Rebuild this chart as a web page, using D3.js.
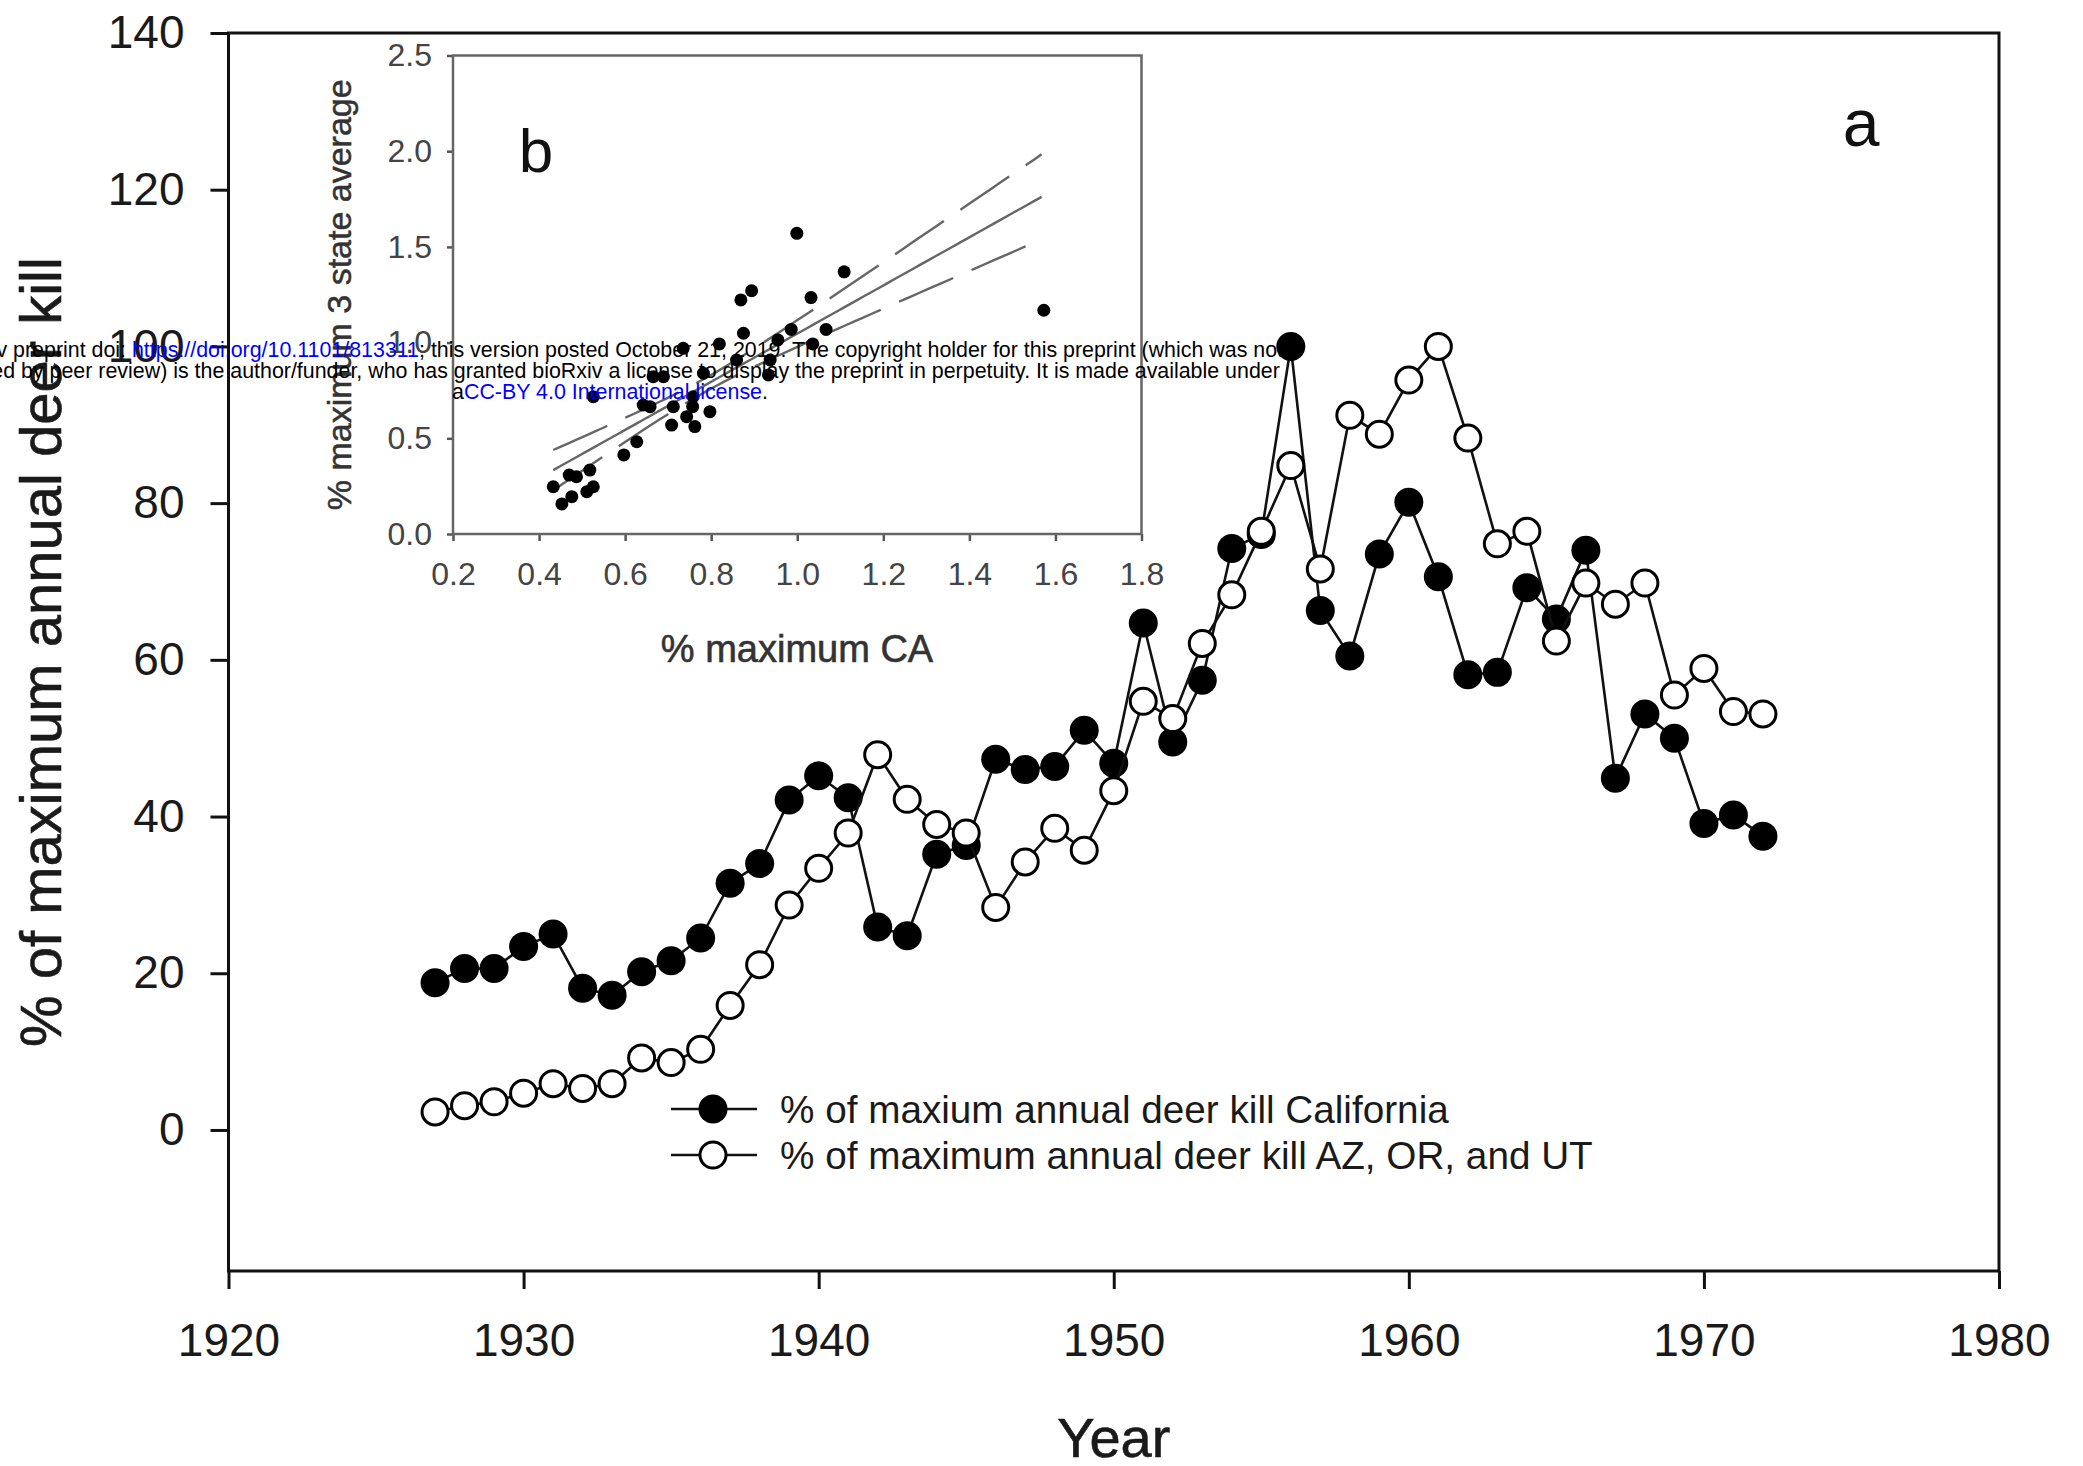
<!DOCTYPE html>
<html>
<head>
<meta charset="utf-8">
<script src="https://cdn.jsdelivr.net/npm/d3@7"></script>
<style>
  body { margin: 0; background: #fff; }
  svg { display: block; }
  text { font-family: "Liberation Sans", Arial, Helvetica, sans-serif; }
</style>
</head>
<body>
<svg id="chart" width="2083" height="1466"></svg>
<script>
// ---- Panel a: annual deer kill, % of maximum ----
const years = [1927, 1928, 1929, 1930, 1931, 1932, 1933, 1934, 1935, 1936,
  1937, 1938, 1939, 1940, 1941, 1942, 1943, 1944, 1945, 1946,
  1947, 1948, 1949, 1950, 1951, 1952, 1953, 1954, 1955, 1956,
  1957, 1958, 1959, 1960, 1961, 1962, 1963, 1964, 1965, 1966,
  1967, 1968, 1969, 1970, 1971, 1972];

const californiaKill = [18.8, 20.6, 20.6, 23.4, 25.0, 18.1, 17.2, 20.2, 21.6, 24.5,
  31.5, 34.0, 42.1, 45.2, 42.4, 25.9, 24.8, 35.2, 36.3, 47.3,
  46.0, 46.4, 51.0, 46.8, 64.7, 49.5, 57.4, 74.2, 76.0, 100,
  66.3, 60.5, 73.5, 80.1, 70.6, 58.1, 58.4, 69.2, 65.2, 74.0,
  44.9, 53.1, 50.0, 39.1, 40.2, 37.5];

const threeStateKill = [2.3, 3.1, 3.6, 4.7, 5.9, 5.3, 5.9, 9.2, 8.6, 10.3,
  15.9, 21.1, 28.7, 33.4, 37.9, 47.9, 42.2, 39.0, 37.9, 28.4,
  34.2, 38.5, 35.7, 43.3, 54.7, 52.5, 62.1, 68.3, 76.4, 84.8,
  71.6, 91.2, 88.8, 95.7, 100, 88.3, 74.8, 76.4, 62.4, 69.8,
  67.1, 69.8, 55.5, 58.9, 53.4, 53.1];

const yearTicks = [1920, 1930, 1940, 1950, 1960, 1970, 1980];
const killTicks = [0, 20, 40, 60, 80, 100, 120, 140];

const seriesLabels = [
  "% of maxium annual deer kill California",
  "% of maximum annual deer kill AZ, OR, and UT"
];

// ---- Panel b: 3-state average vs California ----
const caPct = [0.999, 1.109, 0.894, 0.869, 1.032, 0.875, 0.986, 1.067, 0.955, 0.819,
  1.036, 0.937, 0.933, 0.859, 0.782, 0.735, 0.689, 0.665, 0.526, 0.642,
  0.658, 0.712, 0.743, 0.757, 0.758, 0.797, 0.708, 0.762, 0.627, 0.597,
  0.518, 0.470, 0.487, 0.433, 0.526, 0.511, 0.476, 0.453, 1.573];

const threeStatePct = [1.571, 1.370, 1.271, 1.223, 1.235, 1.049, 1.069, 1.069, 1.014, 0.993,
  0.993, 0.909, 0.831, 0.909, 0.840, 0.970, 0.822, 0.822, 0.717, 0.674,
  0.665, 0.665, 0.613, 0.665, 0.717, 0.639, 0.569, 0.561, 0.482, 0.413,
  0.334, 0.308, 0.299, 0.247, 0.247, 0.221, 0.195, 0.157, 1.169];

const caTicks = [0.2, 0.4, 0.6, 0.8, 1.0, 1.2, 1.4, 1.6, 1.8];
const avgTicks = [0.0, 0.5, 1.0, 1.5, 2.0, 2.5];

// linear fit and its 95% confidence band: [slope, intercept], x extent, [mean x, min half-width, spread]
const fitCoef = [1.258, -0.211];
const fitExtent = [0.433, 1.568];
const bandCoef = [0.786, 0.0355, 0.0786];

// ---- preprint stamp ----
const stampLine1 = [
  { t: "bioRxiv preprint doi: ", c: "#000" },
  { t: "https://doi.org/10.1101/813311", c: "#0000ff" },
  { t: "; this version posted October 21, 2019. The copyright holder for this preprint (which was not", c: "#000" }
];
const stampLine2 = [
  { t: "certified by peer review) is the author/funder, who has granted bioRxiv a license to display the preprint in perpetuity. It is made available under", c: "#000" }
];
const stampLine3 = [
  { t: "a", c: "#000" },
  { t: "CC-BY 4.0 International license", c: "#0000ff" },
  { t: ".", c: "#000" }
];

const svg = d3.select("#chart");
svg.append("rect").attr("width", 2083).attr("height", 1466).attr("fill", "#fff");

// ================= main panel =================
const plot = { left: 228.5, right: 1999, top: 33, bottom: 1271 };
const x = d3.scaleLinear().domain([1920, 1980]).range([plot.left, plot.right]);
const y = d3.scaleLinear().domain([-18, 140]).range([plot.bottom, plot.top]);

const xAxis = svg.append("g")
  .attr("transform", `translate(0,${plot.bottom})`)
  .call(d3.axisBottom(x).tickValues(yearTicks).tickFormat(d3.format("d"))
    .tickSize(18).tickPadding(34).tickSizeOuter(0));
const yAxis = svg.append("g")
  .attr("transform", `translate(${plot.left},0)`)
  .call(d3.axisLeft(y).tickValues(killTicks).tickFormat(d3.format("d"))
    .tickSize(18).tickPadding(26).tickSizeOuter(0));
[xAxis, yAxis].forEach(g => {
  g.select(".domain").remove();
  g.selectAll(".tick line").attr("stroke", "#111").attr("stroke-width", 3);
  g.selectAll(".tick text").attr("fill", "#1a1a1a").attr("font-size", 46);
});

// frame
svg.append("rect")
  .attr("x", plot.left).attr("y", plot.top)
  .attr("width", plot.right - plot.left).attr("height", plot.bottom - plot.top)
  .attr("fill", "none").attr("stroke", "#111").attr("stroke-width", 3);

// axis titles
svg.append("text")
  .attr("transform", `translate(61,${(plot.top + plot.bottom) / 2}) rotate(-90)`)
  .attr("text-anchor", "middle").attr("font-size", 58).attr("fill", "#1a1a1a")
  .attr("stroke", "#1a1a1a").attr("stroke-width", 0.6)
  .text("% of maximum annual deer kill");
svg.append("text")
  .attr("x", (plot.left + plot.right) / 2).attr("y", 1457)
  .attr("text-anchor", "middle").attr("font-size", 56).attr("fill", "#1a1a1a")
  .attr("stroke", "#1a1a1a").attr("stroke-width", 0.6)
  .text("Year");

// panel letter
svg.append("text").attr("x", 1861).attr("y", 146).attr("text-anchor", "middle")
  .attr("font-size", 66).attr("fill", "#111").text("a");

// series
const line = d3.line().x(d => x(d[0])).y(d => y(d[1]));
const caPts = years.map((yr, i) => [yr, californiaKill[i]]);
const tsPts = years.map((yr, i) => [yr, threeStateKill[i]]);

function drawSeries(pts, filled) {
  const g = svg.append("g");
  g.append("path").datum(pts).attr("d", line)
    .attr("fill", "none").attr("stroke", "#111").attr("stroke-width", 2.6);
  g.selectAll("circle").data(pts).join("circle")
    .attr("cx", d => x(d[0])).attr("cy", d => y(d[1]))
    .attr("r", filled ? 14.5 : 13)
    .attr("fill", filled ? "#000" : "#fff")
    .attr("stroke", "#000").attr("stroke-width", filled ? 0 : 3);
}
drawSeries(caPts, true);
drawSeries(tsPts, false);

// legend
const legend = svg.append("g");
seriesLabels.forEach((lab, i) => {
  const ly = 1109 + i * 46;
  legend.append("line").attr("x1", 671).attr("x2", 757).attr("y1", ly).attr("y2", ly)
    .attr("stroke", "#111").attr("stroke-width", 2.6);
  legend.append("circle").attr("cx", 713).attr("cy", ly)
    .attr("r", i === 0 ? 14.5 : 13)
    .attr("fill", i === 0 ? "#000" : "#fff")
    .attr("stroke", "#000").attr("stroke-width", i === 0 ? 0 : 3);
  legend.append("text").attr("x", 780).attr("y", ly + 14)
    .attr("font-size", 38.7).attr("fill", "#1a1a1a").text(lab);
});

// ================= inset panel b =================
const ins = { left: 453, right: 1141.5, top: 55.5, bottom: 534 };
svg.append("rect").attr("x", ins.left).attr("y", ins.top)
  .attr("width", ins.right - ins.left).attr("height", ins.bottom - ins.top)
  .attr("fill", "#fff");
const bx = d3.scaleLinear().domain([0.2, 1.8]).range([ins.left, ins.right]);
const by = d3.scaleLinear().domain([0, 2.5]).range([ins.bottom, ins.top]);

const bxAxis = svg.append("g").attr("transform", `translate(0,${ins.bottom})`)
  .call(d3.axisBottom(bx).tickValues(caTicks).tickFormat(d3.format(".1f"))
    .tickSize(7).tickPadding(21).tickSizeOuter(0));
const byAxis = svg.append("g").attr("transform", `translate(${ins.left},0)`)
  .call(d3.axisLeft(by).tickValues(avgTicks).tickFormat(d3.format(".1f"))
    .tickSize(6).tickPadding(15).tickSizeOuter(0));
[bxAxis, byAxis].forEach(g => {
  g.select(".domain").remove();
  g.selectAll(".tick line").attr("stroke", "#555").attr("stroke-width", 2.5);
  g.selectAll(".tick text").attr("fill", "#444").attr("font-size", 32);
});
svg.append("rect").attr("x", ins.left).attr("y", ins.top)
  .attr("width", ins.right - ins.left).attr("height", ins.bottom - ins.top)
  .attr("fill", "none").attr("stroke", "#666").attr("stroke-width", 2.5);

svg.append("text")
  .attr("transform", `translate(351,${(ins.top + ins.bottom) / 2}) rotate(-90)`)
  .attr("text-anchor", "middle").attr("font-size", 34).attr("fill", "#333")
  .attr("stroke", "#333").attr("stroke-width", 0.5)
  .text("% maximum 3 state average");
svg.append("text").attr("x", 797).attr("y", 662).attr("text-anchor", "middle")
  .attr("font-size", 38).attr("fill", "#333")
  .attr("stroke", "#333").attr("stroke-width", 0.6)
  .text("% maximum CA");
svg.append("text").attr("x", 536).attr("y", 172).attr("text-anchor", "middle")
  .attr("font-size", 62).attr("fill", "#111").text("b");

// regression line and confidence band
const fitAt = v => fitCoef[0] * v + fitCoef[1];
const halfAt = v => Math.sqrt(bandCoef[1] * bandCoef[1] + bandCoef[2] * (v - bandCoef[0]) ** 2);
const fx = d3.scaleLinear().domain([0, 60]).range(fitExtent);
const fitSamples = d3.range(0, 61).map(k => fx(k));
const bline = d3.line().x(d => bx(d[0])).y(d => by(d[1]));
svg.append("path").datum(fitSamples.map(v => [v, fitAt(v)])).attr("d", bline)
  .attr("fill", "none").attr("stroke", "#666").attr("stroke-width", 2.4);
[1, -1].forEach(s => {
  svg.append("path").datum(fitSamples.map(v => [v, fitAt(v) + s * halfAt(v)])).attr("d", bline)
    .attr("fill", "none").attr("stroke", "#666").attr("stroke-width", 2.4)
    .attr("stroke-dasharray", "59 20");
});

svg.append("g").selectAll("circle").data(caPct.map((v, i) => [v, threeStatePct[i]]))
  .join("circle")
  .attr("cx", d => bx(d[0])).attr("cy", d => by(d[1])).attr("r", 6.5).attr("fill", "#000");

// ================= preprint stamp =================
svg.append("clipPath").attr("id", "stampClip")
  .append("rect").attr("x", 0).attr("y", 300).attr("width", 1281).attr("height", 140);
const stamp = svg.append("g").attr("clip-path", "url(#stampClip)");
[[stampLine1, 357], [stampLine2, 378], [stampLine3, 399]].forEach(([parts, ty]) => {
  const t = stamp.append("text").attr("x", 610).attr("y", ty)
    .attr("text-anchor", "middle").attr("font-size", 21.4);
  parts.forEach(p => t.append("tspan").attr("fill", p.c).text(p.t));
});
</script>
</body>
</html>
